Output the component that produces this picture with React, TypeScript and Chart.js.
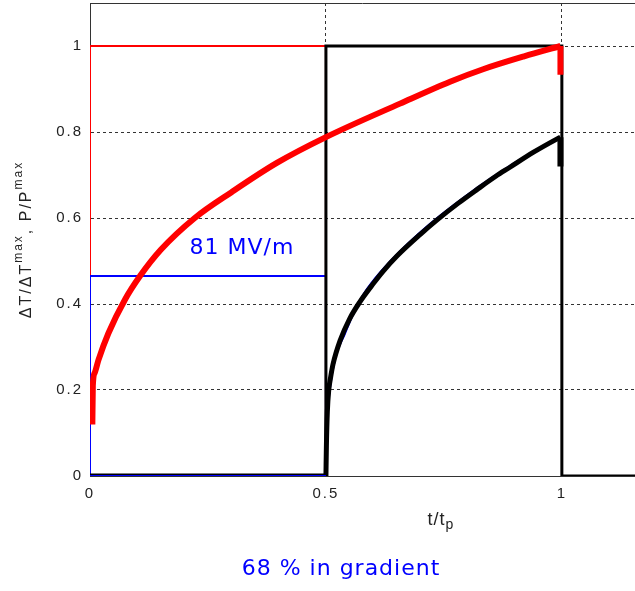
import React, { useEffect, useRef } from "react";
import { Chart, registerables } from "chart.js";

Chart.register(...registerables);

// ---- axis ticks / ranges ----
const xTicks = [0, 0.5, 1];
const yTicks = [0, 0.2, 0.4, 0.6, 0.8, 1];
const xMin = 0;
const xMax = 1.155;
const yMin = 0;
const yMax = 1.1;

// ---- thin pulse shapes (P/Pmax) ----
const redPulseX = [0, 0, 0.5, 0.5];
const redPulseY = [0, 1, 1, 0];
const bluePulseX = [0, 0, 0.5, 0.5];
const bluePulseY = [0, 0.465, 0.465, 0];
const blackPulseX = [0, 0.5, 0.5, 1, 1, 1.5];
const blackPulseY = [0, 0, 1, 1, 0, 0];
const blueBaseX = [0, 0.5];
const blueBaseY = [0, 0];
const blackBaseX = [0, 0.5];
const blackBaseY = [0, 0];

// ---- temperature rise curves (ΔT/ΔTmax) ----
const redRiseX = [0.005, 0.006, 0.01, 0.018, 0.039, 0.074, 0.106, 0.15, 0.222, 0.3, 0.396, 0.5, 0.657, 0.763, 0.833, 0.92, 0.997];
const redRiseY = [0.12, 0.21, 0.24, 0.27, 0.332, 0.41, 0.465, 0.526, 0.6, 0.66, 0.728, 0.788, 0.866, 0.917, 0.946, 0.976, 1.0];
const redDropX = [0.997, 0.997];
const redDropY = [1.0, 0.933];

const blackRiseX = [0.5, 0.501, 0.503, 0.506, 0.51, 0.515, 0.53, 0.55, 0.572, 0.6, 0.621, 0.65, 0.7, 0.735, 0.78, 0.82, 0.86, 0.89, 0.94, 0.99, 0.997];
const blackRiseY = [0, 0.07, 0.15, 0.2, 0.23, 0.26, 0.315, 0.365, 0.405, 0.447, 0.476, 0.511, 0.562, 0.595, 0.634, 0.666, 0.697, 0.718, 0.753, 0.784, 0.788];
const blackDropX = [0.997, 0.997];
const blackDropY = [0.788, 0.72];

const blueRiseX = [0.5, 0.501, 0.504, 0.508, 0.52, 0.54, 0.557, 0.578, 0.62, 0.7, 0.8, 0.9, 0.99];
const blueRiseY = [0, 0.06, 0.15, 0.2, 0.275, 0.33, 0.375, 0.42, 0.48, 0.567, 0.654, 0.728, 0.785];

const pts = (xs: number[], ys: number[]) => xs.map((x, i) => ({ x, y: ys[i] }));

const RED = "#ff0000";
const BLUE = "#0000ff";
const BLACK = "#000000";

const line = (data: { x: number; y: number }[], color: string, width: number, smooth = false) => ({
  data,
  borderColor: color,
  backgroundColor: color,
  borderWidth: width,
  pointRadius: 0,
  pointHoverRadius: 0,
  tension: smooth ? 0.4 : 0,
  cubicInterpolationMode: smooth ? ("monotone" as const) : ("default" as const),
  fill: false,
  borderCapStyle: "butt" as const,
  borderJoinStyle: "miter" as const,
});

const overlay = {
  id: "overlay",
  beforeDraw(chart: any) {
    (chart.ctx as any).letterSpacing = "2px";
  },
  afterDraw(chart: any) {
    const ctx = chart.ctx as CanvasRenderingContext2D;
    const ca = chart.chartArea;
    ctx.save();
    (ctx as any).letterSpacing = "0px";
    // top border
    ctx.strokeStyle = "#333";
    ctx.lineWidth = 1;
    ctx.setLineDash([]);
    ctx.beginPath();
    ctx.moveTo(ca.left, ca.top + 0.5);
    ctx.lineTo(ca.right, ca.top + 0.5);
    ctx.stroke();

    const FAM = '"Liberation Sans", Arial, sans-serif';
    const drawSegs = (segs: { t: string; s: number; dy: number }[], cx: number, spacing: string) => {
      (ctx as any).letterSpacing = spacing;
      let total = 0;
      for (const sg of segs) {
        ctx.font = `${sg.s}px ${FAM}`;
        total += ctx.measureText(sg.t).width;
      }
      let x = cx - total / 2;
      for (const sg of segs) {
        ctx.font = `${sg.s}px ${FAM}`;
        ctx.fillText(sg.t, x, sg.dy);
        x += ctx.measureText(sg.t).width;
      }
    };

    ctx.fillStyle = "#222";
    ctx.textBaseline = "alphabetic";
    ctx.textAlign = "left";

    // y-axis title (rotated)
    ctx.save();
    ctx.translate(31, (ca.top + ca.bottom) / 2);
    ctx.rotate(-Math.PI / 2);
    drawSegs(
      [
        { t: "\u0394T/\u0394T", s: 16, dy: 0 },
        { t: "max", s: 12, dy: -9 },
        { t: ", P/P", s: 16, dy: 0 },
        { t: "max", s: 12, dy: -9 },
      ],
      0,
      "2px"
    );
    ctx.restore();

    // x-axis title
    ctx.save();
    ctx.translate(0, 525);
    drawSegs(
      [
        { t: "t/t", s: 18, dy: 0 },
        { t: "p", s: 14, dy: 4 },
      ],
      441,
      "1px"
    );
    ctx.restore();

    // annotations
    (ctx as any).letterSpacing = "1px";
    ctx.fillStyle = BLUE;
    ctx.textAlign = "center";
    ctx.textBaseline = "middle";
    ctx.font = '22px "DejaVu Sans", sans-serif';
    ctx.fillText("81 MV/m", 242, 248);
    ctx.textBaseline = "alphabetic";
    ctx.font = '22px "DejaVu Sans", sans-serif';
    ctx.fillText("68 % in gradient", 341, 575);
    ctx.restore();
  },
};

export default function App() {
  const ref = useRef<HTMLCanvasElement | null>(null);

  useEffect(() => {
    if (!ref.current) return;
    const chart = new Chart(ref.current, {
      type: "line",
      data: {
        datasets: [
          line(pts(redRiseX, redRiseY), RED, 6, true),
          line(pts(redDropX, redDropY), RED, 6),
          line(pts(blueBaseX, blueBaseY), BLUE, 2),
          line(pts(blackBaseX, blackBaseY), BLACK, 5),
          line(pts(blackRiseX, blackRiseY), BLACK, 5, true),
          line(pts(blackDropX, blackDropY), BLACK, 6),
          line(pts(blueRiseX, blueRiseY), BLUE, 2, true),
          line(pts(blackPulseX, blackPulseY), BLACK, 3),
          line(pts(bluePulseX, bluePulseY), BLUE, 2),
          line(pts(redPulseX, redPulseY), RED, 2),
        ] as any,
      },
      options: {
        responsive: false,
        animation: false,
        devicePixelRatio: 1,
        layout: { padding: { left: 0, top: 3, right: 0, bottom: 0 } },
        plugins: { legend: { display: false }, tooltip: { enabled: false } },
        events: [],
        scales: {
          x: {
            type: "linear",
            min: xMin,
            max: xMax,
            afterBuildTicks: (s: any) => {
              s.ticks = xTicks.map((v) => ({ value: v }));
            },
            afterFit: (s: any) => {
              s.height = 115;
              s.paddingLeft = 0;
              s.paddingRight = 0;
              s.paddingTop = 0;
              s.paddingBottom = 0;
            },
            ticks: {
              callback: (v: any) => String(v),
              font: { family: '"Liberation Sans", Arial, sans-serif', size: 15 },
              color: "#222",
              padding: 9,
              maxRotation: 0,
              autoSkip: false,
            },
            grid: { color: "#333", lineWidth: 1, drawTicks: false },
            border: { color: "#333", width: 1, dash: [3, 3] },
          },
          y: {
            type: "linear",
            min: yMin,
            max: yMax,
            afterBuildTicks: (s: any) => {
              s.ticks = yTicks.map((v) => ({ value: v }));
            },
            afterFit: (s: any) => {
              s.width = 90;
              s.paddingLeft = 0;
              s.paddingRight = 0;
              s.paddingTop = 0;
              s.paddingBottom = 0;
            },
            ticks: {
              callback: (v: any) => String(v),
              font: { family: '"Liberation Sans", Arial, sans-serif', size: 15 },
              color: "#222",
              padding: 7,
              autoSkip: false,
            },
            grid: { color: "#333", lineWidth: 1, drawTicks: false },
            border: { color: "#333", width: 1, dash: [3, 3] },
          },
        },
      },
      plugins: [overlay as any],
    });
    return () => chart.destroy();
  }, []);

  return (
    <div style={{ position: "absolute", left: 0, top: 0, width: 635, height: 591, background: "#fff" }}>
      <canvas ref={ref} width={635} height={591} style={{ display: "block", width: 635, height: 591 }} />
    </div>
  );
}
